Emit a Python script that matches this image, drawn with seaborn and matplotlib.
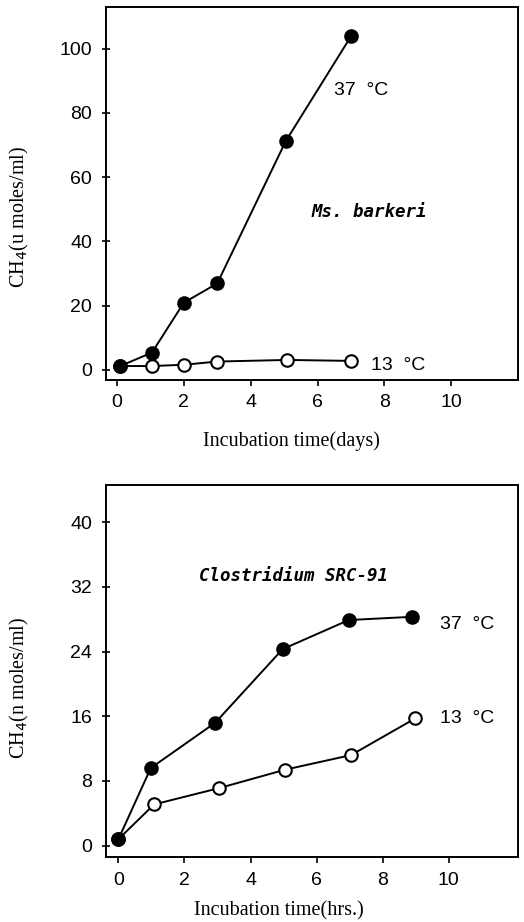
import pandas as pd
import matplotlib
matplotlib.use('Agg')
import matplotlib.pyplot as plt
import seaborn as sns

# Ms. barkeri, days
days_37 = [0.1, 1.05, 2.0, 3.0, 5.05, 7.0]
ch4_37_days = [1.2, 5.4, 20.9, 26.9, 71.2, 103.8]
days_13 = [0.1, 1.05, 2.0, 3.0, 5.1, 7.0]
ch4_13_days = [1.2, 1.2, 1.6, 2.6, 3.1, 2.8]

# Clostridium SRC-91, hours
hrs_37 = [0.0, 0.98, 2.93, 4.97, 6.97, 8.9]
ch4_37_hrs = [0.8, 9.6, 15.2, 24.3, 27.9, 28.3]
hrs_13 = [0.0, 1.08, 3.03, 5.05, 7.04, 8.99]
ch4_13_hrs = [0.8, 5.1, 7.1, 9.4, 11.2, 15.75]

x_ticks = [0, 2, 4, 6, 8, 10]
y_ticks_top = [0, 20, 40, 60, 80, 100]
y_ticks_bot = [0, 8, 16, 24, 32, 40]

sns.set_theme(style='ticks')
plt.rcParams['font.family'] = ['Liberation Sans', 'DejaVu Sans']
plt.rcParams['text.color'] = 'black'
plt.rcParams['axes.labelcolor'] = 'black'
plt.rcParams['xtick.color'] = 'black'
plt.rcParams['ytick.color'] = 'black'

fig = plt.figure(figsize=(5.24, 9.22), dpi=100)
ax1 = fig.add_axes([0.202, 0.588, 0.787, 0.404])
ax2 = fig.add_axes([0.202, 0.0705, 0.787, 0.4035])

serif = ['Liberation Serif', 'DejaVu Serif']
mono = ['DejaVu Sans Mono']


def draw_series(ax, x, y, filled):
    df = pd.DataFrame({'x': x, 'y': y})
    sns.lineplot(data=df, x='x', y='y', ax=ax, color='black', linewidth=1.4,
                 marker='o', markersize=9, sort=False,
                 markerfacecolor='black' if filled else 'white',
                 markeredgecolor='black', markeredgewidth=1.5)


# top panel
draw_series(ax1, days_13, ch4_13_days, False)
draw_series(ax1, days_37, ch4_37_days, True)
ax1.set_xlim(-0.33, 12.0)
ax1.set_ylim(-3.1, 112.8)
ax1.set_yticks(y_ticks_top)
ax1.text(6.5, 87, '37  °C', fontsize=14, va='center')
ax1.text(7.6, 1.5, '13  °C', fontsize=14, va='center')
ax1.text(5.83, 49, 'Ms. barkeri', fontsize=12.5, va='center', family=mono,
         style='italic', weight='bold')
ax1.set_ylabel('CH$_4$(u moles/ml)', family=serif, fontsize=14.5)
ax1.set_xlabel('Incubation time(days)', family=serif, fontsize=14.5)
ax1.yaxis.set_label_coords(-0.182, 0.437)
ax1.xaxis.set_label_coords(0.45, -0.139)

# bottom panel
draw_series(ax2, hrs_13, ch4_13_hrs, False)
draw_series(ax2, hrs_37, ch4_37_hrs, True)
ax2.set_xlim(-0.38, 12.1)
ax2.set_ylim(-1.4, 44.6)
ax2.set_yticks(y_ticks_bot)
ax2.text(9.73, 27.3, '37  °C', fontsize=14, va='center')
ax2.text(9.73, 15.75, '13  °C', fontsize=14, va='center')
ax2.text(2.45, 33.3, 'Clostridium SRC-91', fontsize=12.5, va='center',
         family=mono, style='italic', weight='bold')
ax2.set_ylabel('CH$_4$(n moles/ml)', family=serif, fontsize=14.5)
ax2.set_xlabel('Incubation time(hrs.)', family=serif, fontsize=14.5)
ax2.yaxis.set_label_coords(-0.182, 0.454)
ax2.xaxis.set_label_coords(0.42, -0.12)

for ax in (ax1, ax2):
    ax.set_xticks(x_ticks)
    ax.tick_params(axis='both', labelsize=14, width=1.2, color='black',
                   labelcolor='black')
    ax.tick_params(axis='x', direction='out', length=4, pad=6.5)
    ax.tick_params(axis='y', direction='inout', length=6, pad=7)
    for sp in ax.spines.values():
        sp.set_visible(True)
        sp.set_linewidth(1.4)
        sp.set_color('black')

fig.savefig('out.png', dpi=100)
